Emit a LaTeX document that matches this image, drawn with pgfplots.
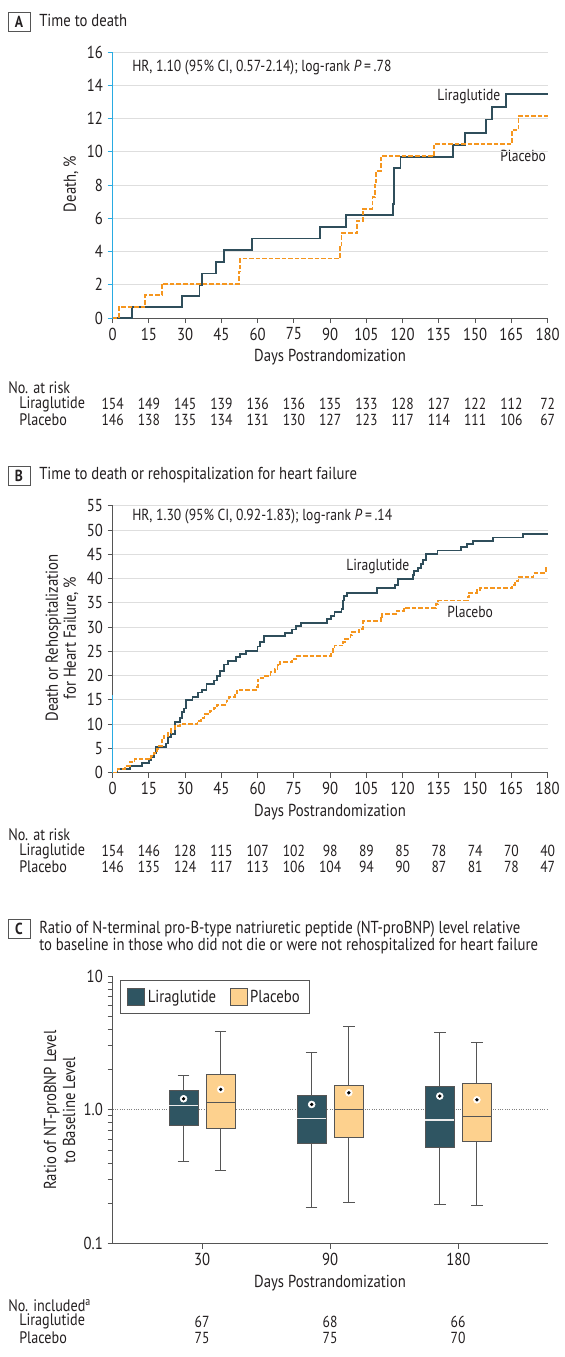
\documentclass[border=0pt]{standalone}
\usepackage{fontspec}
\setmainfont[FakeStretch=0.85]{PT Sans}
\usepackage{pgfplots}
\pgfplotsset{compat=1.18}
\usepgfplotslibrary{statistics}
\definecolor{lira}{HTML}{2F4E5B}
\definecolor{liraf}{HTML}{2F5562}
\definecolor{plac}{HTML}{F5961F}
\definecolor{placf}{HTML}{FDD18E}
\definecolor{bluax}{HTML}{29ABE2}
\definecolor{axg}{HTML}{555555}
\definecolor{gridc}{HTML}{DEDEDE}
\definecolor{txt}{HTML}{231F20}
\newcommand\fs{\fontsize{12}{14}\selectfont}
\newcommand\fr{\fontsize{12.5}{14}\selectfont}
\newcommand\fm{\fontsize{13}{15}\selectfont}
\newcommand\ft{\fontsize{13}{15}\selectfont}
\pgfplotsset{
 kmaxis/.style={
  scale only axis, width=326.25pt,
  axis lines*=left, xmin=0, xmax=180, xtick={0,15,...,180},
  tick align=outside, major tick length=3.75pt,
  tick style={axg, line width=0.75pt},
  x axis line style={axg, line width=0.75pt},
  ymajorgrids, major grid style={gridc, line width=0.75pt},
  ticklabel style={font=\fm, text=txt},
  /pgf/number format/assume math mode=true,
  clip=false,
 },
 lirakm/.style={lira, line width=1.4pt, const plot},
 plackm/.style={plac, line width=1.4pt, const plot, dash pattern=on 3.4pt off 1.5pt},
}
\begin{document}
\begin{tikzpicture}
\begin{scope}[x=0.75pt,y=-0.75pt,
  lab/.style={anchor=west, inner sep=0pt, text=txt, font=\fr},
  ilab/.style={anchor=west, inner sep=0pt, text=txt, font=\fs},
  hr/.style={anchor=west, inner sep=0pt, text=txt, font=\fs},
  ttl/.style={anchor=west, inner sep=0pt, text=txt, font=\ft},
  num/.style={inner sep=0pt, text=txt, font=\fs},
  axt/.style={inner sep=0pt, text=txt, font=\fm},
  pbox/.style={draw=axg, line width=0.75pt, minimum width=16.5pt, minimum height=14.25pt, inner sep=0pt, text=txt, font=\bfseries\fs}]
\path[use as bounding box] (0,0) rectangle (558,1357);
% Panel A texts
\node[pbox] at (19,21.5) {A};
\node[ttl] at (39,20) {Time to death};
\node[hr] at (132,67.7) {HR, 1.10 (95\% CI, 0.57-2.14); log-rank \textit{P}\,=\,.78};
\node[ilab] at (437,96.7) {Liraglutide};
\node[ilab] at (500,156) {Placebo};
\node[axt, rotate=90] at (71,184) {Death, \%};
\node[axt] at (330,356.7) {Days Postrandomization};
\node[lab] at (8,388) {No. at risk};
\node[lab] at (19,404) {Liraglutide};
\node[lab] at (19,420) {Placebo};
\foreach \v [count=\i from 0] in {154,149,145,139,136,136,135,133,128,127,122,112,72}
  \node[num] at ({112.7+\i*36.25},404) {\v};
\foreach \v [count=\i from 0] in {146,138,135,134,131,130,127,123,117,114,111,106,67}
  \node[num] at ({112.7+\i*36.25},420) {\v};
% Panel B texts
\node[pbox] at (19,476) {B};
\node[ttl] at (39,475) {Time to death or rehospitalization for heart failure};
\node[hr] at (132,516.7) {HR, 1.30 (95\% CI, 0.92-1.83); log-rank \textit{P}\,=\,.14};
\node[ilab] at (346,566.7) {Liraglutide};
\node[ilab] at (447,612) {Placebo};
\node[axt, rotate=90, align=center, font=\fontsize{13}{13.5}\selectfont] at (62,638) {Death or Rehospitalization\\for Heart Failure, \%};
\node[axt] at (330,812.3) {Days Postrandomization};
\node[lab] at (8,835) {No. at risk};
\node[lab] at (19,851) {Liraglutide};
\node[lab] at (19,867) {Placebo};
\foreach \v [count=\i from 0] in {154,146,128,115,107,102,98,89,85,78,74,70,40}
  \node[num] at ({112.7+\i*36.25},851) {\v};
\foreach \v [count=\i from 0] in {146,135,124,117,113,106,104,94,90,87,81,78,47}
  \node[num] at ({112.7+\i*36.25},867) {\v};
% Panel C texts
\node[pbox] at (19,928.5) {C};
\node[ttl] at (39,929) {Ratio of N-terminal pro-B-type natriuretic peptide (NT-proBNP) level relative};
\node[ttl] at (39,945.7) {to baseline in those who did not die or were not rehospitalized for heart failure};
\node[axt, rotate=90, align=center, font=\fontsize{13}{14.25}\selectfont] at (59.5,1110) {Ratio of NT-proBNP Level\\to Baseline Level};
\node[axt] at (330,1283.3) {Days Postrandomization};
\node[lab] at (8,1305.5) {No. included\textsuperscript{a}};
\node[lab] at (19,1321.5) {Liraglutide};
\node[lab] at (19,1337.5) {Placebo};
\node[num] at (202,1321.5) {67};
\node[num] at (330,1321.5) {68};
\node[num] at (458,1321.5) {66};
\node[num] at (202,1337.5) {75};
\node[num] at (330,1337.5) {75};
\node[num] at (458,1337.5) {70};
\end{scope}

% ---------- Panel A ----------
\begin{axis}[kmaxis, height=199.5pt, at={(84.525pt,-238.5pt)}, anchor=south west,
  ymin=0, ymax=16, ytick={0,2,...,16},
  y axis line style={bluax, line width=0.75pt}, ytick style={bluax, line width=0.75pt}]
\addplot[lirakm] coordinates {(0,0) (7.9,0.66) (28.8,1.32) (35.9,2.0) (36.9,2.68) (42.9,3.38) (45.9,4.1) (57.6,4.78) (85.6,5.46) (96.6,6.18) (115.9,6.88) (116.5,9.0) (119.1,9.7) (140.7,10.42) (145.9,11.14) (154.4,11.94) (156.8,12.68) (162.6,13.5) (180,13.5)};
\addplot[plackm] coordinates {(0,0) (2.5,0.68) (13.5,1.36) (20.4,2.06) (52.1,2.8) (52.8,3.58) (94.0,4.28) (94.7,5.1) (101.0,5.82) (103.5,6.58) (107.5,7.28) (108.5,8.0) (109.1,8.84) (110.9,9.72) (132.9,10.48) (165.3,11.3) (167.9,12.16) (180,12.16)};
\end{axis}

% ---------- Panel B ----------
\begin{axis}[kmaxis, height=199.9pt, at={(84.525pt,-579.375pt)}, anchor=south west,
  ymin=0, ymax=55, ytick={0,5,...,55},
  y axis line style={axg, line width=0.75pt}]
\addplot[bluax, line width=0.75pt] coordinates {(0,0) (0,16)};
\addplot[lirakm] coordinates {(0,0) (2,0.65) (7,1.3) (12,2.0) (15,2.6) (16,3.2) (17,4.0) (18,5.3) (21.9,6.0) (23,7.3) (24,8.0) (25.6,10.5) (27.8,11.2) (28.8,12.5) (29.5,13.2) (30.4,14.9) (33,15.6) (35.4,16.5) (36.8,17.1) (38.8,18.2) (41.8,19.0) (43.2,20.0) (44.4,21.0) (45.9,22.3) (47.6,23.0) (50.9,23.8) (52.6,24.5) (55.3,25.1) (59.9,26.0) (60.9,27.0) (62.6,28.1) (71.2,28.8) (74.1,29.5) (75.9,30.2) (77.8,30.9) (88.5,31.6) (90.3,32.3) (91.8,33.1) (94.7,33.8) (95.2,35.5) (95.6,36.4) (96.9,37.1) (109.4,38.0) (116.8,38.7) (117.9,40.0) (124.1,40.7) (124.8,41.5) (126.3,42.2) (127.5,43.0) (128.5,43.8) (129.6,45.1) (134.4,45.8) (144,46.5) (146.6,47.2) (149.1,47.8) (157.2,48.5) (169.7,49.3) (180,49.3)};
\addplot[plackm] coordinates {(0,0) (2,0.7) (5,1.4) (7,2.1) (9,2.75) (16,3.4) (17,4.1) (18.5,4.8) (19.3,5.5) (20.3,6.8) (21.2,7.6) (23,8.2) (24.2,8.9) (25.8,9.6) (27.8,10.0) (35.1,10.7) (36.6,11.3) (38,12.1) (40.3,12.7) (41.8,13.4) (43.2,14.0) (47.1,14.8) (48.1,15.6) (50.6,16.3) (51.6,17.1) (59.7,17.7) (60.0,19.0) (60.3,19.5) (63.1,20.0) (65.3,20.7) (67.1,21.4) (68.2,22.1) (69.1,22.8) (74.1,23.4) (76,24.1) (90.3,24.8) (91,25.5) (91.8,26.2) (95.4,26.9) (96.2,27.6) (98.4,28.3) (99.1,29.0) (102,29.7) (103.5,31.2) (110.9,31.9) (111.6,32.7) (117.5,33.4) (120.4,34.0) (133.7,34.7) (134.7,35.5) (146.9,36.2) (147.6,37.1) (150.6,37.6) (152.1,38.0) (165.3,38.7) (166.3,39.5) (167.9,40.4) (174.1,41.2) (179.3,42.2) (180,42.2)};
\end{axis}

% ---------- Panel C ----------
\begin{axis}[scale only axis, width=326.625pt, height=200.6pt, at={(84.375pt,-932.625pt)}, anchor=south west,
  ymode=log, ymin=0.1, ymax=10, ytick={0.1,1,10}, yticklabels={0.1,1.0,10},
  minor ytick={0.2,0.3,0.4,0.5,0.6,0.7,0.8,0.9,2,3,4,5,6,7,8,9},
  xmin=0.3, xmax=3.7, xtick={1,2,3}, xticklabels={30,90,180},
  axis lines*=left, tick align=outside, major tick length=3.75pt, minor tick length=3.75pt,
  tick style={axg, line width=0.75pt}, axis line style={axg, line width=0.75pt},
  ticklabel style={font=\fm, text=txt},
  legend style={at={(0.0172,0.985)}, anchor=north west, legend columns=2, draw=axg, line width=0.75pt,
    font=\fm, text=txt, inner xsep=5pt, inner ysep=5pt,
    /tikz/every even column/.append style={column sep=8pt}},
  legend cell align=left,
  legend image code/.code={\draw[#1] (0pt,-6.4pt) rectangle (12.75pt,6.4pt);},
  boxplot/draw direction=y,
  boxplot/box extend=0.226, boxplot/whisker extend=0.09]
\addlegendimage{fill=liraf, draw=axg, line width=0.75pt}
\addlegendimage{fill=placf, draw=axg, line width=0.75pt}
\legend{Liraglutide, Placebo}
\addplot[gray, line width=0.75pt, densely dotted, forget plot] coordinates {(0.3,1) (3.7,1)};
% Liraglutide boxes
\addplot[forget plot, draw=axg, fill=liraf, line width=0.75pt, boxplot/every median/.style={draw=white!85!gray, line width=1pt},
  boxplot prepared={draw position=0.855, lower whisker=0.410, lower quartile=0.759, median=1.077, upper quartile=1.395, upper whisker=1.80}] coordinates {};
\addplot[forget plot, draw=axg, fill=liraf, line width=0.75pt, boxplot/every median/.style={draw=white!85!gray, line width=1pt},
  boxplot prepared={draw position=1.855, lower whisker=0.186, lower quartile=0.560, median=0.856, upper quartile=1.273, upper whisker=2.69}] coordinates {};
\addplot[forget plot, draw=axg, fill=liraf, line width=0.75pt, boxplot/every median/.style={draw=white!85!gray, line width=1pt},
  boxplot prepared={draw position=2.855, lower whisker=0.197, lower quartile=0.522, median=0.837, upper quartile=1.496, upper whisker=3.79}] coordinates {};
% Placebo boxes
\addplot[forget plot, draw=axg, fill=placf, line width=0.75pt, boxplot/every median/.style={draw=axg, line width=1pt},
  boxplot prepared={draw position=1.145, lower whisker=0.349, lower quartile=0.724, median=1.128, upper quartile=1.84, upper whisker=3.86}] coordinates {};
\addplot[forget plot, draw=axg, fill=placf, line width=0.75pt, boxplot/every median/.style={draw=axg, line width=1pt},
  boxplot prepared={draw position=2.145, lower whisker=0.202, lower quartile=0.624, median=1.0, upper quartile=1.531, upper whisker=4.16}] coordinates {};
\addplot[forget plot, draw=axg, fill=placf, line width=0.75pt, boxplot/every median/.style={draw=axg, line width=1pt},
  boxplot prepared={draw position=3.145, lower whisker=0.193, lower quartile=0.582, median=0.886, upper quartile=1.585, upper whisker=3.16}] coordinates {};
% means
\addplot[forget plot, only marks, mark=*, mark size=2.6pt, mark options={fill=white, draw=white}] coordinates {(0.855,1.209) (1.855,1.096) (2.855,1.266) (1.145,1.42) (2.145,1.34) (3.145,1.188)};
\addplot[forget plot, only marks, mark=*, mark size=1.1pt, mark options={fill=black, draw=black}] coordinates {(0.855,1.209) (1.855,1.096) (2.855,1.266) (1.145,1.42) (2.145,1.34) (3.145,1.188)};
\end{axis}
\end{tikzpicture}
\end{document}
